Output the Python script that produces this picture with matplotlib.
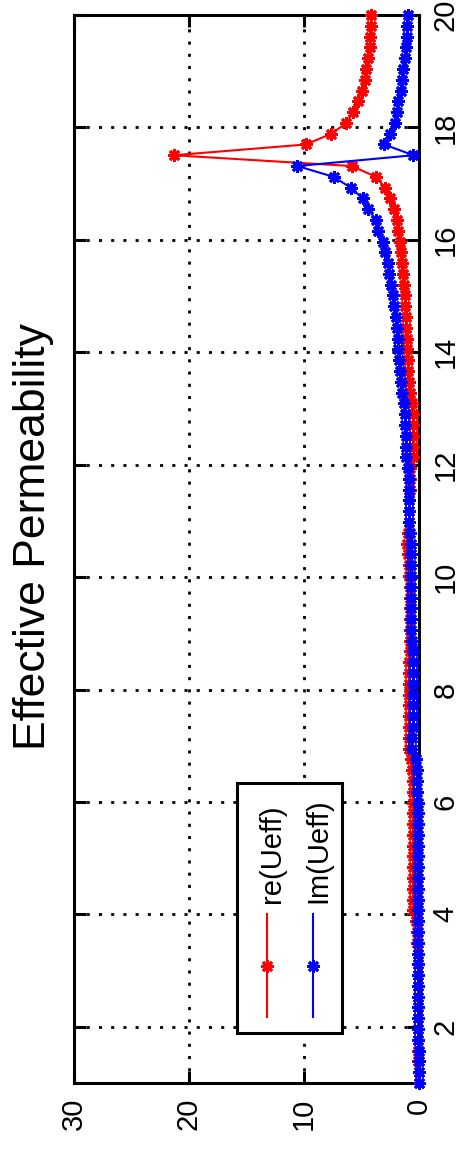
import numpy as np
import matplotlib
matplotlib.use('Agg')
import matplotlib.pyplot as plt
from matplotlib import font_manager
from matplotlib.patches import Rectangle
from matplotlib.lines import Line2D

W, H = 458, 1151

# frequency sweep (100 samples from 1 to 20)
freq = np.linspace(1, 20, 100)

re_ueff = [0.00, 0.00, 0.01, 0.01, 0.02, 0.02, 0.03, 0.03, 0.04, 0.05,
           0.05, 0.06, 0.08, 0.10, 0.15, 0.25,
           0.45, 0.45, 0.46, 0.46, 0.47, 0.47, 0.48, 0.48, 0.49, 0.50,
           0.50, 0.51, 0.52, 0.55, 0.62,
           0.80, 0.82, 0.82, 0.83, 0.83, 0.83, 0.82, 0.82, 0.80, 0.78,
           0.76, 0.75, 0.75, 0.75, 0.76, 0.78, 0.80, 0.85,
           0.95, 0.97, 0.92,
           0.82, 0.80, 0.80, 0.78, 0.75, 0.70,
           0.48, 0.45, 0.45, 0.46, 0.50,
           0.60, 0.70, 0.80, 0.88, 0.95, 1.00, 1.02, 1.05,
           1.09, 1.15, 1.18, 1.25, 1.33, 1.42, 1.50, 1.65, 1.76, 1.90,
           2.10, 2.45, 2.93, 3.70, 5.83,
           21.3, 9.80, 7.58, 6.27, 5.70, 5.26, 4.96, 4.67, 4.55, 4.38,
           4.26, 4.22, 4.17, 4.10]

im_ueff = [0.00, 0.00, 0.00, 0.00, 0.01, 0.01, 0.01, 0.01, 0.01, 0.02,
           0.02, 0.02, 0.02, 0.03, 0.03, 0.03, 0.04, 0.04, 0.05, 0.05,
           0.05, 0.06, 0.06, 0.07, 0.07, 0.08, 0.08, 0.09, 0.10, 0.12, 0.20,
           0.60, 0.58, 0.48, 0.46, 0.45, 0.45, 0.45, 0.46, 0.47, 0.50,
           0.60, 0.62, 0.63, 0.63, 0.64, 0.64, 0.65, 0.65, 0.66, 0.68,
           0.72, 0.80, 0.82, 0.83, 0.84, 0.85, 0.88,
           1.08, 1.10, 1.12, 1.14, 1.18,
           1.30, 1.40, 1.50, 1.60, 1.70, 1.76, 1.82, 1.90,
           1.97, 2.10, 2.20, 2.40, 2.55, 2.64, 2.90, 3.07, 3.50, 3.71,
           4.38, 4.87, 5.90, 7.40, 10.55,
           0.45, 3.00, 2.50, 2.05, 1.90, 1.76, 1.55, 1.47, 1.33, 1.18,
           1.05, 1.03, 0.98, 0.89]

series_names = ['re(Ueff)', 'Im(Ueff)']
series_colors = ['#ff0000', '#0000ff']
value_ticks = [0, 10, 20, 30]
freq_ticks = [2, 4, 6, 8, 10, 12, 14, 16, 18, 20]
title = 'Effective Permeability'

names = {f.name for f in font_manager.fontManager.ttflist}
if 'Liberation Sans Narrow' in names:
    small_font, small_size = 'Liberation Sans Narrow', 25
else:
    small_font, small_size = 'Liberation Sans', 21


def fx(x):
    return x / W


def fy(y):
    return 1 - y / H


star = (8, 2, 0)

fig = plt.figure(figsize=(W / 100, H / 100), dpi=100)
# the whole chart is turned a quarter turn: values run right-to-left, frequency bottom-to-top
ax = fig.add_axes([fx(74), fy(1083), (418.5 - 74) / W, (1083 - 15) / H])

for vals, c in zip([re_ueff, im_ueff], series_colors):
    ax.plot(vals, freq, color=c, lw=1.5, marker=star, ms=9, mew=2,
            clip_on=False, zorder=3)

ax.set_xlim(30, 0)
ax.set_ylim(1, 20)
ax.set_xticks(value_ticks)
ax.set_yticks(freq_ticks)
ax.grid(True, color='black', linestyle=(0, (1.1, 3.3)), linewidth=2.0)

ax.tick_params(axis='both', direction='in', length=8.5, width=2.2,
               top=True, bottom=True, left=True, right=True)
ax.tick_params(axis='y', labelleft=False, labelright=True, labelrotation=90, pad=9.5)
ax.tick_params(axis='x', labelrotation=90, pad=10.5)
for lbl in ax.get_yticklabels() + ax.get_xticklabels():
    lbl.set_fontfamily(small_font)
    lbl.set_fontsize(small_size)
for lbl in ax.get_yticklabels():
    lbl.set_va('center')
for sp in ax.spines.values():
    sp.set_linewidth(2.2)

fig.text(fx(45), fy(537), title, rotation=90, rotation_mode='anchor',
         ha='center', va='baseline', fontsize=32, family='Liberation Sans')

# legend, drawn by hand because it is rotated too
fig.add_artist(Rectangle((fx(237), fy(1033)), (342 - 237) / W, (1033 - 783) / H,
                         transform=fig.transFigure, facecolor='white',
                         edgecolor='black', lw=2.2, zorder=5))
for i, (name, c) in enumerate(zip(series_names, series_colors)):
    xl = [267, 313][i]
    fig.add_artist(Line2D([fx(xl), fx(xl)], [fy(914), fy(1017)], color=c, lw=1.5,
                          transform=fig.transFigure, zorder=6))
    fig.add_artist(Line2D([fx(xl)], [fy(966)], color=c, marker=star, ms=9, mew=2,
                          transform=fig.transFigure, zorder=6))
    fig.text(fx(xl + 13), fy(903), name, rotation=90, rotation_mode='anchor',
             ha='left', va='baseline', fontsize=small_size, family=small_font,
             zorder=7)

fig.savefig('out.png', dpi=100)
